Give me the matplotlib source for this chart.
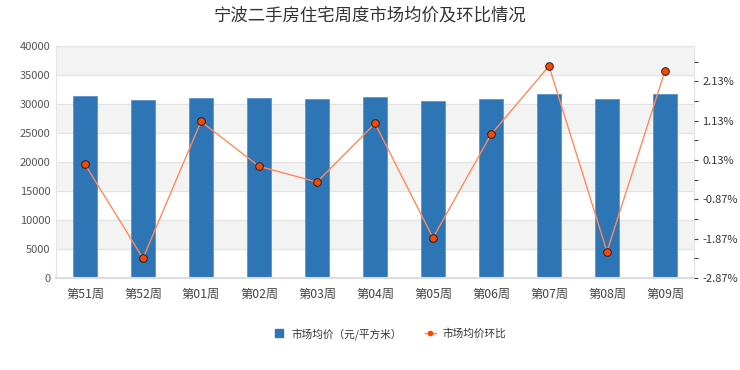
import matplotlib.pyplot as plt
import numpy as np

plt.rcParams['font.family'] = ['Noto Sans CJK SC', 'DejaVu Sans']

weeks = ['第51周', '第52周', '第01周', '第02周', '第03周', '第04周',
         '第05周', '第06周', '第07周', '第08周', '第09周']
price = [31350, 30700, 31050, 31050, 30900, 31250, 30600, 30900, 31700, 30900, 31700]
ratio = [0.02, -2.37, 1.11, -0.03, -0.43, 1.06, -1.85, 0.78, 2.52, -2.20, 2.40]

fig = plt.figure(figsize=(7.4, 3.7), dpi=100)
ax1 = fig.add_axes([56/740, 92/370, 638/740, 232/370])
x = np.arange(len(weeks))

# 背景条纹
for lo in range(5000, 40000, 10000):
    ax1.axhspan(lo, lo + 5000, color='#f3f3f3', zorder=0, lw=0)
for yv in range(0, 40001, 5000):
    ax1.axhline(yv, color='#e4e4e4', lw=1, zorder=0.5)

ax1.bar(x, price, width=0.41, color='#2e75b6', edgecolor='#5a93cc', lw=0.6, zorder=2)
ax1.set_xlim(-0.5, len(weeks) - 0.5)
ax1.set_ylim(0, 40000)
ax1.set_yticks(range(0, 40001, 5000))
ax1.set_xticks(x)
ax1.set_xticklabels(weeks)
ax1.tick_params(axis='y', length=0, labelsize=8, labelcolor='#555555', pad=4)
ax1.tick_params(axis='x', length=0, labelsize=8.8, labelcolor='#444444', pad=7)
for s in ['left', 'right', 'top']:
    ax1.spines[s].set_color('#e4e4e4')
ax1.spines['bottom'].set_color('#dddddd')
ax1.spines['bottom'].set_linewidth(1.5)

ax2 = ax1.twinx()
ax2.plot(x, ratio, color='#ff8a5c', lw=1, marker='o', markersize=5.5,
         markerfacecolor='#ff4500', markeredgecolor='#222222', markeredgewidth=0.7, zorder=3)
ax2.set_ylim(-2.87, 3.03)
ticks = np.arange(-2.87, 3.0, 0.5)
ax2.set_yticks(ticks)
ax2.set_yticklabels(['%.2f%%' % t if i % 2 == 0 else '' for i, t in enumerate(ticks)])
ax2.tick_params(axis='y', length=3, width=0.8, color='#444444', labelsize=8,
                labelcolor='#333333', pad=3)
for s in ax2.spines.values():
    s.set_visible(False)

fig.text(0.5, 0.958, '宁波二手房住宅周度市场均价及环比情况', ha='center', va='center',
         fontsize=12.5, color='#333333')

h1 = plt.Line2D([], [], ls='none', marker='s', markersize=6, color='#2e75b6')
h2 = plt.Line2D([], [], color='#ff8a5c', lw=1, marker='o', markersize=3,
                markerfacecolor='#ff4500', markeredgecolor='#ff4500')
fig.legend([h1, h2], ['市场均价（元/平方米）', '市场均价环比'], loc='center',
           bbox_to_anchor=(0.527, 0.098), ncol=2, frameon=False, fontsize=7.7,
           handlelength=1.0, handletextpad=0.6, columnspacing=2.2, labelcolor='#333333')

fig.savefig('out.png')
